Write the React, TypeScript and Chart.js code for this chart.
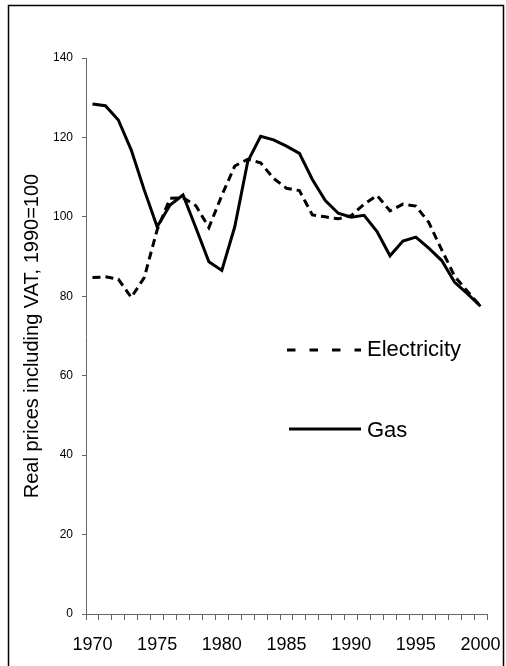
import React, { useEffect, useRef } from "react";
import { Chart, registerables } from "chart.js";

Chart.register(...registerables);

const years: string[] = [
  "1970", "1971", "1972", "1973", "1974", "1975", "1976", "1977", "1978", "1979",
  "1980", "1981", "1982", "1983", "1984", "1985", "1986", "1987", "1988", "1989",
  "1990", "1991", "1992", "1993", "1994", "1995", "1996", "1997", "1998", "1999", "2000",
];

const gas: number[] = [
  128.4, 128.0, 124.4, 116.8, 106.8, 97.5, 103.0, 105.5, 97.2, 88.7,
  86.5, 97.5, 113.9, 120.3, 119.4, 117.8, 116.0, 109.4, 104.1, 100.9,
  99.9, 100.4, 96.3, 90.2, 93.9, 94.9, 92.1, 89.0, 83.5, 80.6, 77.5,
];

const electricity: number[] = [
  84.7, 84.9, 84.3, 79.7, 84.7, 96.7, 104.7, 104.8, 102.8, 97.3,
  105.4, 112.8, 114.5, 113.6, 109.7, 107.2, 106.6, 100.5, 100.0, 99.5,
  100.3, 103.2, 105.4, 101.5, 103.2, 102.7, 98.6, 91.7, 85.0, 81.2, 77.5,
];

const yTicks: number[] = [0, 20, 40, 60, 80, 100, 120, 140];
const xLabelYears: string[] = ["1970", "1975", "1980", "1985", "1990", "1995", "2000"];

const seriesNames = { electricity: "Electricity", gas: "Gas" };
const yTitle = "Real prices including VAT, 1990=100";

const FONT = "'Liberation Sans', Arial, Helvetica, sans-serif";

const framePlugin = {
  id: "frameAndLegend",
  afterDraw(chart: any) {
    const ctx = chart.ctx as CanvasRenderingContext2D;
    ctx.save();
    ctx.strokeStyle = "#000";
    ctx.lineWidth = 1.5;
    ctx.strokeRect(8.5, 5.5, 495, 720);
    ctx.lineWidth = 3;
    ctx.lineCap = "butt";
    ctx.setLineDash([8.5, 14]);
    ctx.beginPath();
    ctx.moveTo(287, 350);
    ctx.lineTo(361, 350);
    ctx.stroke();
    ctx.setLineDash([]);
    ctx.beginPath();
    ctx.moveTo(289, 429);
    ctx.lineTo(361, 429);
    ctx.stroke();
    ctx.fillStyle = "#000";
    ctx.font = `22px ${FONT}`;
    ctx.textBaseline = "alphabetic";
    ctx.textAlign = "left";
    ctx.fillText(seriesNames.electricity, 367, 356);
    ctx.fillText(seriesNames.gas, 367, 437);
    ctx.restore();
  },
};

export default function App() {
  const ref = useRef<HTMLCanvasElement | null>(null);

  useEffect(() => {
    if (!ref.current) return;
    const chart = new Chart(ref.current, {
      type: "line",
      data: {
        labels: years,
        datasets: [
          {
            label: seriesNames.gas,
            data: gas,
            borderColor: "#000",
            borderWidth: 3,
            pointRadius: 0,
            tension: 0,
            fill: false,
          },
          {
            label: seriesNames.electricity,
            data: electricity,
            borderColor: "#000",
            borderWidth: 3,
            borderDash: [8, 5],
            borderCapStyle: "butt",
            pointRadius: 0,
            tension: 0,
            fill: false,
          },
        ],
      },
      options: {
        responsive: false,
        animation: false,
        devicePixelRatio: 1,
        layout: { padding: { top: 58, right: 19, left: 0, bottom: 0 } },
        plugins: {
          legend: { display: false },
          tooltip: { enabled: false },
          title: { display: false },
        },
        scales: {
          x: {
            type: "category",
            offset: true,
            afterFit: (s: any) => {
              s.height = 52;
              s.paddingRight = 0;
              s.paddingLeft = 0;
            },
            grid: {
              offset: true,
              drawOnChartArea: false,
              drawTicks: true,
              tickLength: 6,
              color: "#666",
              lineWidth: 1,
            },
            border: { display: true, color: "#666", width: 1 },
            ticks: {
              autoSkip: false,
              maxRotation: 0,
              minRotation: 0,
              padding: 14,
              color: "#000",
              font: { family: FONT, size: 18 },
              callback: (_v: any, i: number) =>
                xLabelYears.includes(years[i]) ? years[i] : "",
            },
          },
          y: {
            min: yTicks[0],
            max: yTicks[yTicks.length - 1],
            afterFit: (s: any) => {
              s.width = 86;
            },
            afterBuildTicks: (s: any) => {
              s.ticks = yTicks.map((v) => ({ value: v }));
            },
            grid: {
              drawOnChartArea: false,
              drawTicks: true,
              tickLength: 4,
              color: "#666",
              lineWidth: 1,
            },
            border: { display: true, color: "#666", width: 1 },
            ticks: {
              padding: 9,
              color: "#000",
              font: { family: FONT, size: 12 },
            },
            title: {
              display: true,
              text: yTitle,
              color: "#000",
              font: { family: FONT, size: 20, weight: "normal" },
              padding: { top: 20, bottom: 0 },
            },
          },
        },
      },
      plugins: [framePlugin],
    });
    return () => chart.destroy();
  }, []);

  return (
    <div style={{ position: "fixed", left: 0, top: 0, width: 506, height: 666, background: "#fff" }}>
      <canvas ref={ref} width={506} height={666} style={{ display: "block", width: 506, height: 666 }} />
    </div>
  );
}
